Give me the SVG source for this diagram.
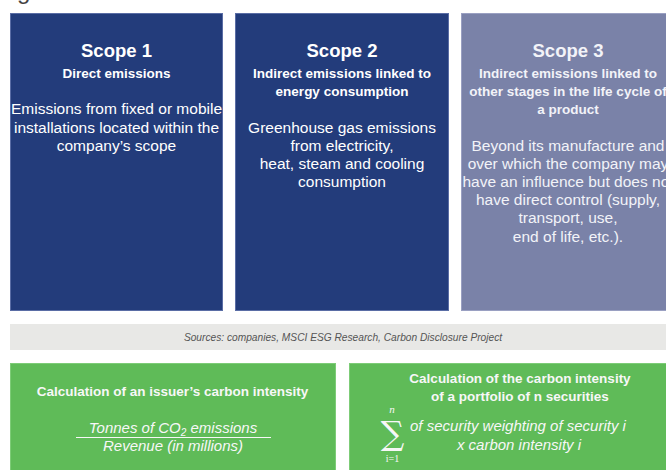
<svg xmlns="http://www.w3.org/2000/svg" width="666" height="470" viewBox="0 0 666 470">
<style>
text{font-family:"Liberation Sans",Arial,sans-serif;text-anchor:middle}
.title{font-size:18.5px;font-weight:bold;fill:#ffffff}
.sub{font-size:13.5px;font-weight:bold;fill:#ffffff}
.body{font-size:15.5px;fill:#ffffff}
.s3 .title,.s3 .sub,.s3 .body{fill:#f2f3f8}
.blue{fill:#233c7b;stroke:#5a6da5;stroke-width:1}
.lav{fill:#7a82a8;stroke:#9aa0c2;stroke-width:1}
.green{fill:#5fbb58;stroke:#7dcc77;stroke-width:1}
.gtext{fill:#f7f7f7}
.it{font-style:italic;font-size:15px}
</style>
<text x="17" y="-1" style="font-size:24px;fill:#444;text-anchor:start">g</text>
<g id="scope1">
<rect class="blue" x="10.5" y="13.5" width="212" height="297"/>
<text class="title" x="116.5" y="57">Scope 1</text>
<text class="sub" x="116.5" y="77.5">Direct emissions</text>
<text class="body" x="116.5" y="114">Emissions from fixed or mobile</text>
<text class="body" x="116.5" y="132.5">installations located within the</text>
<text class="body" x="116.5" y="151">company’s scope</text>
</g>
<g id="scope2">
<rect class="blue" x="235.5" y="13.5" width="213" height="297"/>
<text class="title" x="342" y="57">Scope 2</text>
<text class="sub" x="342" y="77.5">Indirect emissions linked to</text>
<text class="sub" x="342" y="95.5">energy consumption</text>
<text class="body" x="342" y="132.5">Greenhouse gas emissions</text>
<text class="body" x="342" y="150.5">from electricity,</text>
<text class="body" x="342" y="168.5">heat, steam and cooling</text>
<text class="body" x="342" y="186.5">consumption</text>
</g>
<g id="scope3" class="s3">
<rect class="lav" x="461.5" y="13.5" width="214" height="297"/>
<text class="title" x="568" y="57">Scope 3</text>
<text class="sub" x="568" y="77.5">Indirect emissions linked to</text>
<text class="sub" x="568" y="95.5">other stages in the life cycle of</text>
<text class="sub" x="568" y="113.5">a product</text>
<text class="body" x="568" y="151">Beyond its manufacture and</text>
<text class="body" x="568" y="169">over which the company may</text>
<text class="body" x="568" y="187">have an influence but does not</text>
<text class="body" x="568" y="205">have direct control (supply,</text>
<text class="body" x="568" y="223">transport, use,</text>
<text class="body" x="568" y="241.5">end of life, etc.).</text>
</g>
<g id="sources">
<rect x="10" y="324" width="660" height="26" fill="#e8e8e6"/>
<text x="343" y="340.5" style="font-size:10.2px;font-style:italic;fill:#555">Sources: companies, MSCI ESG Research, Carbon Disclosure Project</text>
</g>
<g id="issuer">
<rect class="green" x="10.5" y="363.5" width="325" height="110"/>
<text class="sub gtext" x="172.5" y="396">Calculation of an issuer’s carbon intensity</text>
<text class="it gtext" x="173" y="433">Tonnes of CO<tspan style="font-size:10px" dy="3">2</tspan><tspan dy="-3"> emissions</tspan></text>
<line x1="76" y1="437.5" x2="271" y2="437.5" stroke="#f7f7f7" stroke-width="1"/>
<text class="it gtext" x="173" y="451">Revenue (in millions)</text>
</g>
<g id="portfolio">
<rect class="green" x="349.5" y="363.5" width="340" height="110"/>
<text class="sub gtext" x="520" y="383">Calculation of the carbon intensity</text>
<text class="sub gtext" x="520" y="400.5">of a portfolio of n securities</text>
<text class="gtext" x="392.5" y="445" style="font-family:'DejaVu Serif',serif;font-size:33px">∑</text>
<text class="gtext" x="392" y="413" style="font-family:'Liberation Serif',serif;font-style:italic;font-size:11px">n</text>
<text class="gtext" x="392.5" y="462" style="font-family:'Liberation Serif',serif;font-size:10px">i=1</text>
<text class="it gtext" x="518" y="431">of security weighting of security i</text>
<text class="it gtext" x="519" y="450">x carbon intensity i</text>
</g>
</svg>
